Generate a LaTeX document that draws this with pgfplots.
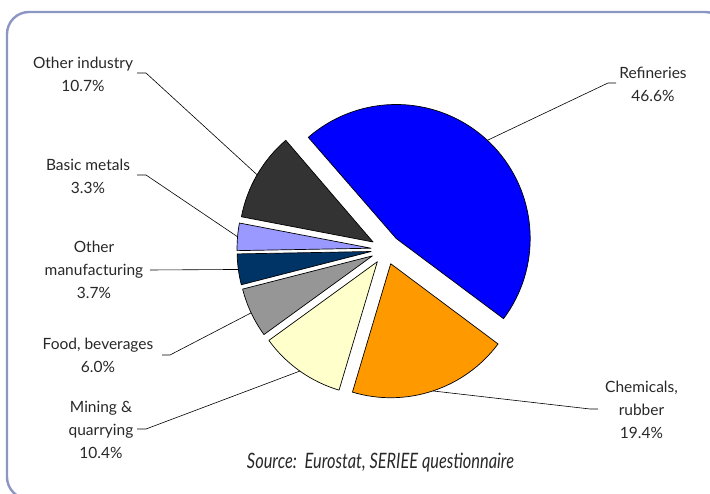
\documentclass[border=0pt]{standalone}
\usepackage{pgfplots}
\pgfplotsset{compat=1.18}
\usepackage{pgfplotstable}
\usepackage{fontspec}
\setmainfont{Lato}

\definecolor{cRef}{RGB}{0,0,255}
\definecolor{cChem}{RGB}{255,153,0}
\definecolor{cMin}{RGB}{255,255,204}
\definecolor{cFood}{RGB}{150,150,150}
\definecolor{cOman}{RGB}{0,51,102}
\definecolor{cBas}{RGB}{153,153,255}
\definecolor{cOind}{RGB}{51,51,51}
\definecolor{frame}{RGB}{140,150,195}
\definecolor{txt}{RGB}{40,40,40}

% shares in percent, clockwise from Refineries
\pgfplotstableread{
val col
46.6 cRef
19.4 cChem
10.4 cMin
6.0 cFood
3.7 cOman
3.3 cBas
10.7 cOind
}\pietable

\begin{document}
\begin{tikzpicture}
\begin{axis}[
    x=1pt, y=1pt,
    xmin=0, xmax=710, ymin=0, ymax=493,
    hide axis, clip=false,
]
\coordinate (bbsw) at (axis cs:0,0);
\coordinate (bbne) at (axis cs:710,493);
\draw[frame, line width=2.4pt, rounded corners=22pt]
    (axis cs:7,-6) rectangle (axis cs:727,481);

\xdef\angstart{131}
\foreach \i in {0,...,6}{
  \pgfplotstablegetelem{\i}{val}\of\pietable \let\sliceval\pgfplotsretval
  \pgfplotstablegetelem{\i}{col}\of\pietable \let\slicecol\pgfplotsretval
  \pgfmathsetmacro\aend{\angstart-3.6*\sliceval}
  \pgfmathsetmacro\amid{(\angstart+\aend)/2}
  \pgfmathsetmacro\ax{386+15*cos(\amid)}
  \pgfmathsetmacro\ay{243.5+15*sin(\amid)}
  \pgfmathsetmacro\mx{\ax+134*cos(\amid)}
  \pgfmathsetmacro\my{\ay+134*sin(\amid)}
  \edef\cmd{\noexpand\filldraw[fill=\slicecol, draw=black, line width=0.7pt, line join=round]
      (axis cs:\ax,\ay) -- ++(\angstart:134pt)
      arc[start angle=\angstart, end angle=\aend, radius=134pt] -- cycle;
      \noexpand\coordinate (m\i) at (axis cs:\mx,\my);}
  \cmd
  \xdef\angstart{\aend}
}

\begin{scope}[every node/.style={align=center, text=txt, font=\fontsize{15.5}{23}\selectfont}]
\node at (axis cs:653,408.5) {Refineries\\46.6\%};
\node at (axis cs:641.5,83) {Chemicals,\\rubber\\19.4\%};
\node at (axis cs:101,63) {Mining \&\\quarrying\\10.4\%};
\node at (axis cs:98,137.5) {Food, beverages\\6.0\%};
\node at (axis cs:94,223) {Other\\manufacturing\\3.7\%};
\node at (axis cs:88,316.5) {Basic metals\\3.3\%};
\node at (axis cs:83,418.5) {Other industry\\10.7\%};
\end{scope}

\begin{scope}[line width=0.6pt, black]
\draw (axis cs:616,410) -- (axis cs:608,410) -- (m0);
\draw (axis cs:598,84) -- (axis cs:590,84) -- (m1);
\draw (axis cs:137,64) -- (axis cs:146,64) -- (m2);
\draw (axis cs:162,138) -- (axis cs:170,138) -- (m3);
\draw (axis cs:150,223) -- (m4);
\draw (axis cs:137,318) -- (axis cs:146,318) -- (m5);
\draw (axis cs:137,420) -- (axis cs:146,420) -- (m6);
\end{scope}

\node[text=txt] at (axis cs:380.5,30)
    {\resizebox{267pt}{15.5pt}{\itshape Source:\ \ Eurostat, SERIEE questionnaire}};
\end{axis}
\pgfresetboundingbox
\useasboundingbox (bbsw) rectangle (bbne);
\end{tikzpicture}
\end{document}
